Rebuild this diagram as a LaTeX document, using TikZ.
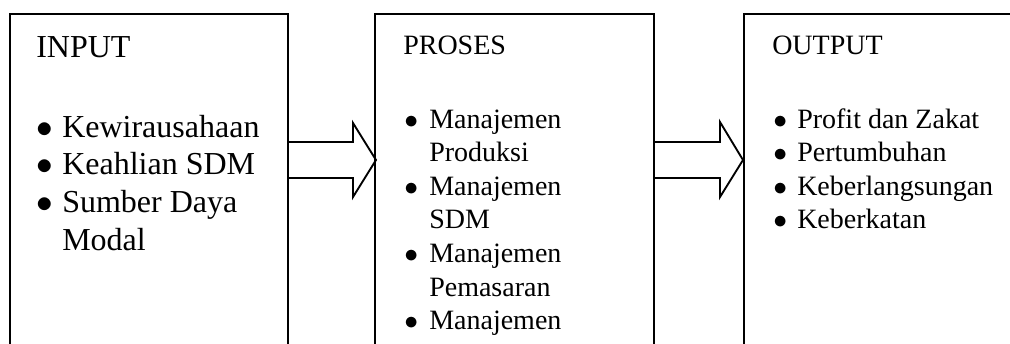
\documentclass[tikz,border=0pt]{standalone}
\usepackage{fontspec}
\setmainfont{Liberation Serif}
\usetikzlibrary{calc, positioning}

\newcommand{\btk}{$\bullet$}

\begin{document}
\begin{tikzpicture}[
        x=0.75pt, y=-0.75pt,
        kotak/.style={draw, line width=1.4pt, inner sep=0pt, outer sep=0pt,
            anchor=north west, minimum height=259.5pt},
        panah/.style={line width=1.4pt, line join=miter},
        judul/.style={anchor=base west, inner sep=0pt},
        daftar/.style={anchor=base west, inner sep=0pt, align=left},
        besar/.style={font=\fontsize{24}{28.3}\selectfont},
        kecil/.style={font=\fontsize{21}{25.2}\selectfont},
    ]
    \clip (0,0) rectangle (1010,343);

    %% ---- three boxes (cut off at the bottom) ----
    \node[kotak, minimum width=208.5pt] (input) at (10,14) {};
    \node[kotak, minimum width=209.25pt] (proses) at (375,14) {};
    \node[kotak, minimum width=225pt] (output) at (744,14) {};

    %% ---- INPUT ----
    \node[judul, besar] (injudul) at (36,57) {INPUT};
    \node[daftar, besar] (inlist) at (36,137) {%
        \begin{tabular}[t]{@{}p{19.5pt}@{}l@{}}
            \btk & Kewirausahaan\\
            \btk & Keahlian SDM\\
            \btk & Sumber Daya\\
                 & Modal
        \end{tabular}};

    %% ---- PROSES ----
    \node[judul, kecil] (prjudul) at (403,54) {PROSES};
    \node[daftar, kecil] (prlist) at (404,128) {%
        \begin{tabular}[t]{@{}p{18.75pt}@{}l@{}}
            \btk & Manajemen\\
                 & Produksi\\
            \btk & Manajemen\\
                 & SDM\\
            \btk & Manajemen\\
                 & Pemasaran\\
            \btk & Manajemen
        \end{tabular}};

    %% ---- OUTPUT ----
    \node[judul, kecil] (outjudul) at (772,54) {OUTPUT};
    \node[daftar, kecil] (outlist) at (773,128) {%
        \begin{tabular}[t]{@{}p{18pt}@{}l@{}}
            \btk & Profit dan Zakat\\
            \btk & Pertumbuhan\\
            \btk & Keberlangsungan\\
            \btk & Keberkatan
        \end{tabular}};

    %% ---- block arrows ----
    \draw[panah] ($(input.north east)+(0,128)$) -- ++(65,0) -- ++(0,-19)
        -- ($(proses.north west)+(1,146)$)
        -- ($(input.north east)+(65,183)$) -- ++(0,-19) -- ++(-65,0);
    \draw[panah] ($(proses.north east)+(0,128)$) -- ++(66,0) -- ++(0,-20)
        -- ($(output.north west)+(-1,146)$)
        -- ($(proses.north east)+(66,183)$) -- ++(0,-19) -- ++(-66,0);

\end{tikzpicture}
\end{document}
